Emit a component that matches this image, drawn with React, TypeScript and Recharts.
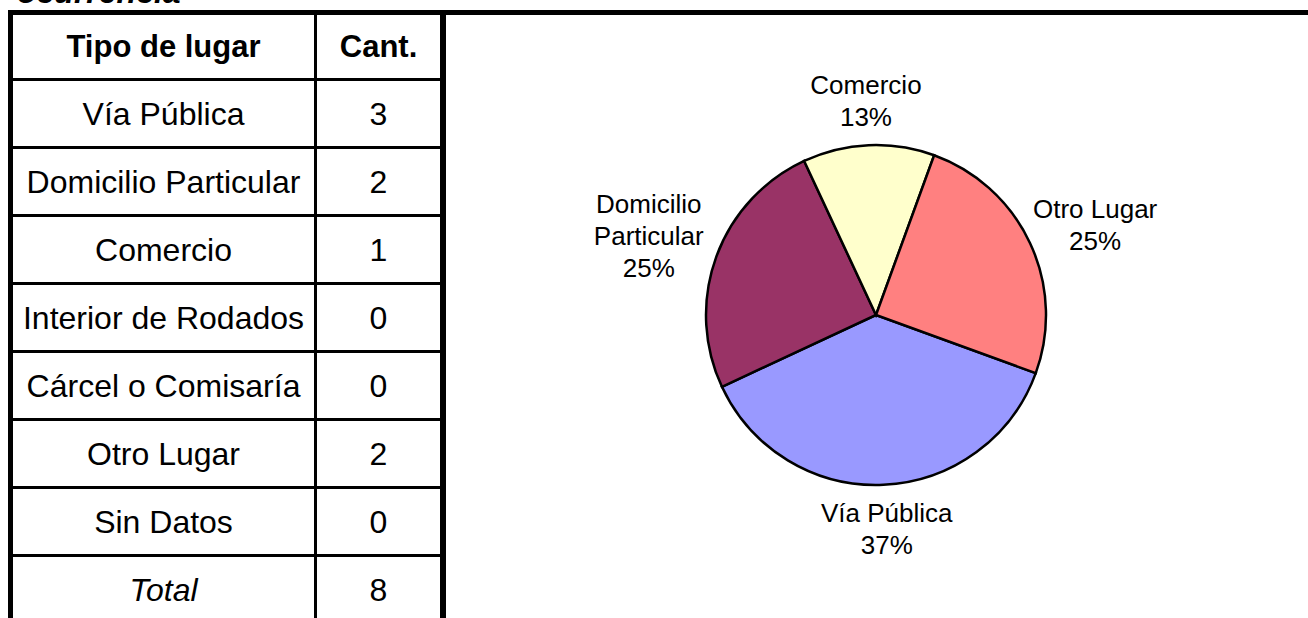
import { PieChart, Pie, Cell } from 'recharts';

const categories = [
  'Vía Pública',
  'Domicilio Particular',
  'Comercio',
  'Interior de Rodados',
  'Cárcel o Comisaría',
  'Otro Lugar',
  'Sin Datos',
];
const counts = [3, 2, 1, 0, 0, 2, 0];
const pctLabels = ['37%', '25%', '13%', '0%', '0%', '25%', '0%'];
const sliceColors = ['#9999FF', '#993366', '#FFFFCC', '#CCFFFF', '#660066', '#FF8080', '#0066CC'];
const totalLabel = 'Total';
const total = 8;

const FONT = 'Arial, "Liberation Sans", sans-serif';
const RAD = Math.PI / 180;

const pieData = categories
  .map((name, i) => ({ name, value: counts[i], pct: pctLabels[i], color: sliceColors[i] }))
  .filter((d) => d.value > 0);

const LABEL_SIZE = 26;
const LINE_H = 32;

const renderLabel = (props: any) => {
  const { cx, cy, midAngle, outerRadius, payload } = props;
  const name: string = payload.name;
  const lines = name.length > 12 ? name.split(' ') : [name];
  lines.push(payload.pct);
  const w = Math.max(...lines.map((l) => l.length)) * LABEL_SIZE * 0.46;
  const h = lines.length * LINE_H;
  const dx = Math.cos(-midAngle * RAD);
  const dy = Math.sin(-midAngle * RAD);
  const r = outerRadius + 12;
  const x = cx + r * dx + (dx * w) / 2;
  const y = cy + r * dy + (dy * h) / 2;
  const top = y - h / 2;
  return (
    <g>
      {lines.map((line, i) => (
        <text
          key={i}
          x={x}
          y={top + LINE_H * i + LINE_H / 2 + 9}
          textAnchor="middle"
          fill="#000"
          fontFamily={FONT}
          fontSize={LABEL_SIZE}
        >
          {line}
        </text>
      ))}
    </g>
  );
};

const ROW_H = 68;
const FIRST_LINE = 78;

const Cell2 = ({ left, width, top, children, style }: any) => (
  <div
    style={{
      position: 'absolute',
      left,
      width,
      top,
      height: ROW_H - 3,
      display: 'flex',
      alignItems: 'center',
      justifyContent: 'center',
      fontFamily: FONT,
      fontSize: 32,
      lineHeight: 1,
      color: '#000',
      whiteSpace: 'nowrap',
      ...style,
    }}
  >
    {children}
  </div>
);

const App = () => {
  const rows = [...categories.map((c, i) => ({ c, n: String(counts[i]), total: false })), { c: totalLabel, n: String(total), total: true }];
  return (
    <div
      style={{
        position: 'absolute',
        left: 0,
        top: 0,
        width: 1308,
        height: 618,
        overflow: 'hidden',
        background: '#fff',
      }}
    >
      {/* heading text cut off at the top, as in the source page */}
      <div
        style={{
          position: 'absolute',
          left: 17,
          top: -24,
          fontFamily: FONT,
          fontSize: 32,
          lineHeight: '32px',
          fontWeight: 'bold',
          fontStyle: 'italic',
          whiteSpace: 'nowrap',
        }}
      >
        ocurrencia
      </div>

      {/* table borders */}
      <div style={{ position: 'absolute', left: 8, top: 10, width: 1300, height: 5, background: '#000' }} />
      <div style={{ position: 'absolute', left: 8, top: 10, width: 5, height: 608, background: '#000' }} />
      <div style={{ position: 'absolute', left: 440, top: 10, width: 6, height: 608, background: '#000' }} />
      <div style={{ position: 'absolute', left: 314, top: 15, width: 3, height: 603, background: '#000' }} />
      {rows.map((_, i) => (
        <div
          key={i}
          style={{ position: 'absolute', left: 13, top: FIRST_LINE + ROW_H * i, width: 427, height: 3, background: '#000' }}
        />
      ))}

      <Cell2 left={13} width={301} top={15} style={{ fontWeight: 'bold', fontSize: 31, height: 63 }}>
        Tipo de lugar
      </Cell2>
      <Cell2 left={317} width={123} top={15} style={{ fontWeight: 'bold', fontSize: 31, height: 63 }}>
        Cant.
      </Cell2>
      {rows.map((r, i) => (
        <div key={i}>
          <Cell2 left={13} width={301} top={FIRST_LINE + 3 + ROW_H * i} style={r.total ? { fontStyle: 'italic' } : undefined}>
            {r.c}
          </Cell2>
          <Cell2 left={317} width={123} top={FIRST_LINE + 3 + ROW_H * i}>
            {r.n}
          </Cell2>
        </div>
      ))}

      <div style={{ position: 'absolute', left: 446, top: 15 }}>
        <PieChart width={862} height={603} margin={{ top: 0, right: 0, bottom: 0, left: 0 }}>
          <Pie
            data={pieData}
            dataKey="value"
            nameKey="name"
            cx={430}
            cy={300}
            outerRadius={170}
            startAngle={-20}
            endAngle={-380}
            stroke="#000"
            strokeWidth={2.5}
            label={renderLabel}
            labelLine={false}
            isAnimationActive={false}
          >
            {pieData.map((d, i) => (
              <Cell key={`cell-${i}`} fill={d.color} />
            ))}
          </Pie>
        </PieChart>
      </div>
    </div>
  );
};

export default App;
